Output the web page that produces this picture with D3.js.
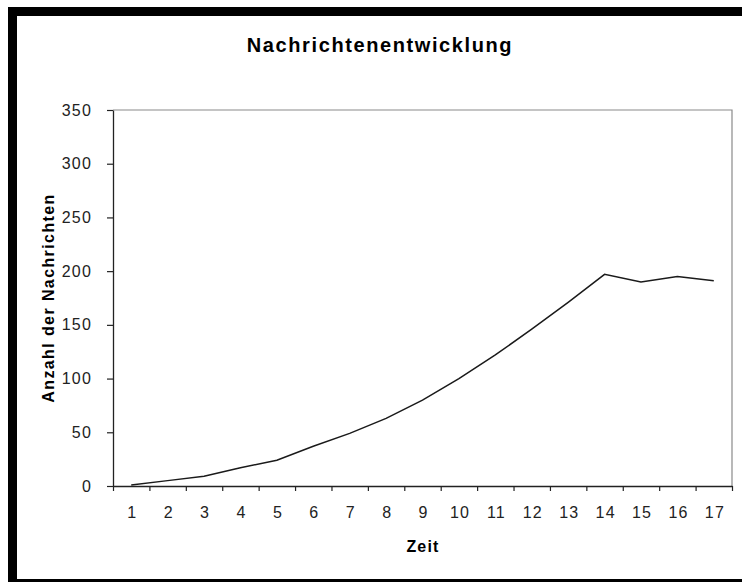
<!DOCTYPE html>
<html>
<head>
<meta charset="utf-8">
<script src="https://cdn.jsdelivr.net/npm/d3@7"></script>
<style>
  html, body { margin: 0; padding: 0; background: #fff; overflow: hidden; }
  svg { display: block; font-family: "Liberation Sans", Arial, sans-serif; }
</style>
</head>
<body>
<svg id="chart" width="742" height="582"></svg>
<script>
// Time steps and the number of messages at each step
const categories = [1, 2, 3, 4, 5, 6, 7, 8, 9, 10, 11, 12, 13, 14, 15, 16, 17];
const messages = [1, 5, 9, 17, 24, 37, 49, 63, 80, 100, 122, 146, 171, 197, 190, 195, 191];
const yTicks = [0, 50, 100, 150, 200, 250, 300, 350];

const chartTitle = "Nachrichtenentwicklung";
const xTitle = "Zeit";
const yTitle = "Anzahl der Nachrichten";

const svg = d3.select("#chart");

// Outer black frame (open to the right)
svg.append("rect").attr("x", 8).attr("y", 7).attr("width", 800).attr("height", 600).attr("fill", "#000");
svg.append("rect").attr("x", 17).attr("y", 16).attr("width", 800).attr("height", 563).attr("fill", "#fff");

const plot = { left: 113, right: 732, top: 110, bottom: 486 };

const x = d3.scaleLinear()
  .domain([categories[0] - 0.5, categories[categories.length - 1] + 0.5])
  .range([plot.left, plot.right]);
const y = d3.scaleLinear().domain([0, 350]).range([plot.bottom, plot.top]);

// Plot area frame (top and right)
svg.append("path")
  .attr("d", `M${plot.left},${plot.top}H${plot.right}V${plot.bottom}`)
  .attr("fill", "none").attr("stroke", "#8a8a8a").attr("stroke-width", 1.2);

// Y axis
const yAxis = svg.append("g")
  .attr("transform", `translate(${plot.left},0)`)
  .call(d3.axisLeft(y).tickValues(yTicks).tickSize(6).tickPadding(15).tickSizeOuter(0));
yAxis.select(".domain").attr("stroke", "#222").attr("stroke-width", 1.3);
yAxis.selectAll(".tick line").attr("stroke", "#222").attr("stroke-width", 1.2);
yAxis.selectAll("text")
  .attr("font-size", 16).attr("fill", "#222")
  .style("letter-spacing", "1.2px")
  .attr("font-family", "Liberation Sans, Arial, sans-serif");

// X axis: tick marks between categories
const boundaries = categories.map(c => c - 0.5).concat([categories[categories.length - 1] + 0.5]);
const xAxis = svg.append("g")
  .attr("transform", `translate(0,${plot.bottom})`)
  .call(d3.axisBottom(x).tickValues(boundaries).tickSize(5).tickFormat("").tickSizeOuter(0));
xAxis.select(".domain").attr("stroke", "#222").attr("stroke-width", 1.3);
xAxis.selectAll(".tick line").attr("stroke", "#222").attr("stroke-width", 1.2);

// X axis labels centred on each category
const xLabels = svg.append("g")
  .attr("transform", `translate(0,${plot.bottom})`)
  .call(d3.axisBottom(x).tickValues(categories).tickSize(0).tickFormat(d3.format("d")));
xLabels.select(".domain").remove();
xLabels.selectAll("text")
  .attr("y", 32).attr("dy", 0).attr("dx", 0.6)
  .attr("font-size", 16).attr("fill", "#222")
  .style("letter-spacing", "1.2px")
  .attr("font-family", "Liberation Sans, Arial, sans-serif");

// Data line
const line = d3.line().x((d, i) => x(categories[i])).y(d => y(d));
svg.append("path")
  .datum(messages)
  .attr("d", line)
  .attr("fill", "none")
  .attr("stroke", "#1a1a1a")
  .attr("stroke-width", 1.5);

// Titles
svg.append("text")
  .attr("x", 380).attr("y", 52)
  .attr("text-anchor", "middle")
  .attr("font-size", 20).attr("font-weight", "bold")
  .style("letter-spacing", "1.6px")
  .text(chartTitle);

svg.append("text")
  .attr("x", 423).attr("y", 552)
  .attr("text-anchor", "middle")
  .attr("font-size", 16).attr("font-weight", "bold")
  .style("letter-spacing", "1.2px")
  .text(xTitle);

svg.append("text")
  .attr("transform", `translate(54,${(plot.top + plot.bottom) / 2}) rotate(-90)`)
  .attr("text-anchor", "middle")
  .attr("font-size", 16).attr("font-weight", "bold")
  .style("letter-spacing", "1.4px")
  .text(yTitle);
</script>
</body>
</html>
